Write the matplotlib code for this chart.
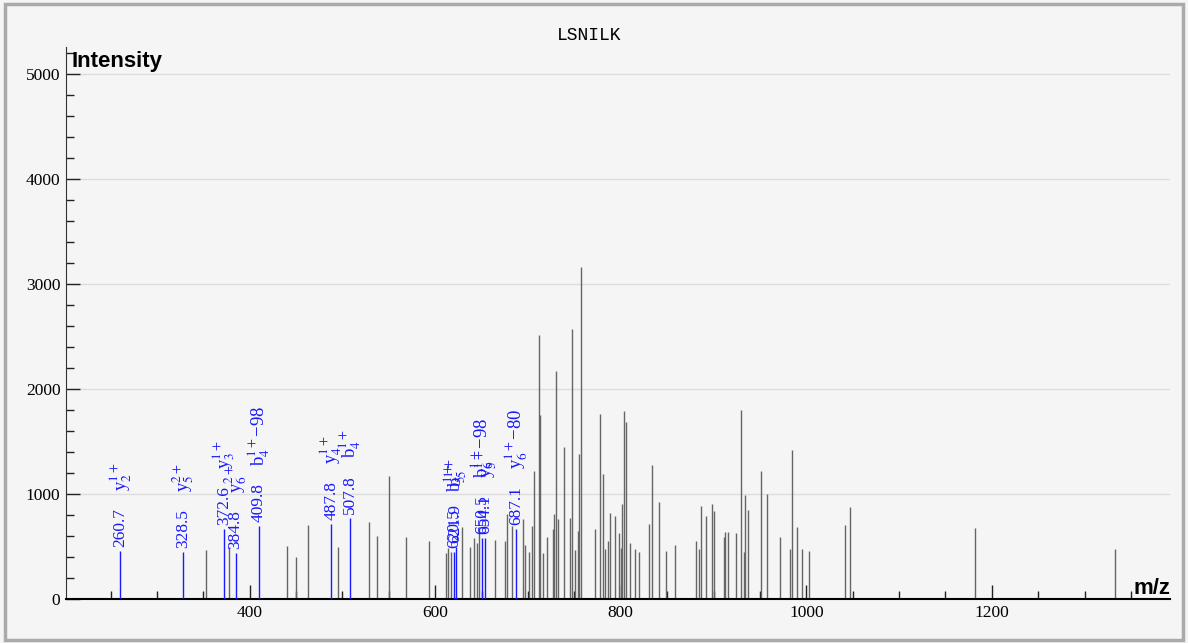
import matplotlib
matplotlib.use('Agg')
import matplotlib.pyplot as plt
from matplotlib.ticker import MultipleLocator
from matplotlib.patches import Rectangle

plt.rcParams['mathtext.fontset'] = 'stix'

title = 'LSNILK'

# unmatched peaks (m/z, intensity)
peak_mz = [352.7, 377.8, 440.0, 450.4, 462.6, 495.6, 528.7, 537.3, 550.6, 568.2,
           593.3, 611.4, 613.9, 616.7, 629.2, 637.5, 641.8, 644.8, 646.9, 664.1,
           674.9, 677.4, 682.5, 695.0, 696.5, 700.8, 704.3, 706.2, 711.5, 713.0,
           716.2, 720.5, 726.6, 728.4, 729.9, 732.0, 738.5, 745.3, 747.4, 750.7,
           753.6, 755.3, 757.2, 772.6, 777.6, 780.5, 783.0, 786.2, 788.7, 794.1,
           798.4, 800.0, 801.7, 803.8, 806.0, 810.0, 815.0, 819.3, 830.1, 834.0,
           840.9, 849.1, 858.4, 881.4, 884.6, 886.5, 891.8, 898.0, 900.2, 911.0,
           912.7, 915.6, 923.8, 929.2, 933.1, 934.2, 937.1, 951.1, 957.6, 971.6,
           982.3, 984.5, 989.6, 995.3, 1003.0, 1041.4, 1047.3, 1182.0, 1332.3]
peak_int = [467, 498, 508, 400, 705, 498, 733, 600, 1171, 593,
            549, 435, 482, 451, 683, 498, 584, 536, 673, 562,
            549, 806, 698, 765, 514, 445, 695, 1222, 2514, 1752,
            441, 593, 664, 810, 2171, 765, 1451, 771, 2571, 467,
            645, 1381, 3162, 667, 1759, 1190, 479, 549, 816, 790,
            625, 486, 902, 1787, 1686, 536, 473, 451, 711, 1273,
            924, 460, 517, 549, 476, 886, 790, 905, 838, 590,
            641, 641, 625, 1800, 448, 994, 844, 1216, 1000, 590,
            479, 1416, 686, 476, 454, 702, 876, 673, 479]

# matched fragment ions
ion_mz = [260.7, 328.5, 372.6, 384.8, 409.8, 487.8, 507.8, 620.5, 621.9, 650.5, 654.1, 687.1]
ion_int = [460, 448, 664, 435, 695, 711, 771, 451, 498, 578, 585, 670]
ion_names = ['y$_{2}^{1+}$', 'y$_{5}^{2+}$', 'y$_{3}^{1+}$', 'y$_{6}^{2+}$',
             'b$_{4}^{1+}$\u221298', 'y$_{4}^{1+}$', 'b$_{4}^{1+}$',
             'b$_{5}^{1+}$', 'b$_{5}^{1+}$', 'b$_{6}^{1+}$\u221298',
             'y$_{5}^{1+}$', 'y$_{6}^{1+}$\u221280']

bg = '#f5f5f5'
blue = '#1a1aff'

fig = plt.figure(figsize=(11.88, 6.43), dpi=100, facecolor=bg)
fig.patches.append(Rectangle((0.004, 0.004), 0.992, 0.99, transform=fig.transFigure,
                             fill=False, edgecolor='#aaaaaa', linewidth=2.5))
ax = fig.add_axes([66 / 1188, 1 - 599 / 643, (1170 - 66) / 1188, (599 - 47) / 643])
ax.set_facecolor(bg)

ax.vlines(peak_mz, 0, peak_int, color='#666666', linewidth=1, zorder=2)
ax.vlines(ion_mz, 0, ion_int, color=blue, linewidth=1, zorder=3)

for mz, it, name in zip(ion_mz, ion_int, ion_names):
    ax.annotate('%.1f' % mz, (mz, it), xytext=(0, 4), textcoords='offset pixels',
                rotation=90, ha='center', va='bottom', color=blue,
                fontsize=12.5, family='Liberation Serif', zorder=4)
    ax.annotate(name, (mz, it), xytext=(0, 60), textcoords='offset pixels',
                rotation=90, ha='center', va='bottom', color=blue,
                fontsize=13.5, family='Liberation Serif', zorder=4)

ax.set_xlim(202, 1392)
ax.set_ylim(0, 5257)

ax.yaxis.set_major_locator(MultipleLocator(1000))
ax.yaxis.set_minor_locator(MultipleLocator(200))
ax.xaxis.set_major_locator(MultipleLocator(200))
ax.xaxis.set_minor_locator(MultipleLocator(50))
ax.tick_params(which='major', direction='in', length=10, width=1, color='#222222')
ax.tick_params(which='minor', direction='in', length=6, width=1, color='#222222')
ax.tick_params(axis='y', which='major', pad=4, labelsize=12.5)
ax.tick_params(axis='x', which='major', pad=4, labelsize=12.5)
for lab in ax.get_xticklabels() + ax.get_yticklabels():
    lab.set_family('Liberation Serif')

ax.grid(axis='y', which='major', color='#dddddd', linewidth=1, zorder=0)
ax.set_axisbelow(True)

for s in ['top', 'right']:
    ax.spines[s].set_visible(False)
ax.spines['left'].set_color('#333333')
ax.spines['bottom'].set_color('black')
ax.spines['bottom'].set_linewidth(1.5)

ax.text(0.005, 1 - 14 / 552, 'Intensity', transform=ax.transAxes, ha='left', va='center',
        fontsize=16, fontweight='bold', family='Liberation Sans')
ax.text(1.0, 10 / 552, 'm/z', transform=ax.transAxes, ha='right', va='center',
        fontsize=16, fontweight='bold', family='Liberation Sans')

fig.text(589 / 1188, 1 - 35 / 643, title, ha='center', va='center',
         fontsize=13, family='Liberation Mono')

fig.savefig('out.png', dpi=100, facecolor=bg)
